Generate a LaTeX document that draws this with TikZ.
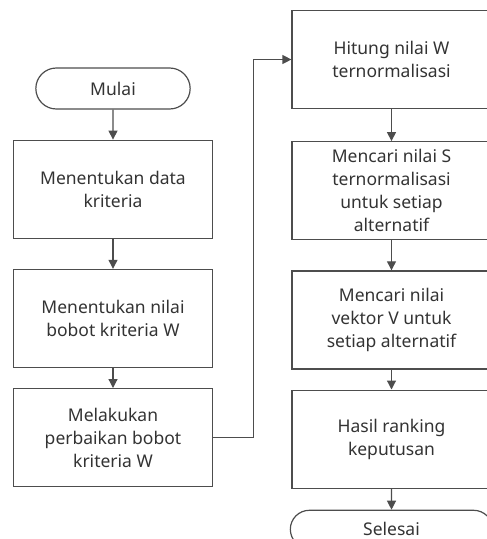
\documentclass[tikz,border=0pt]{standalone}
\usepackage{fontspec}
\setmainfont{Noto Sans}
\usetikzlibrary{arrows.meta,shapes,positioning}
\definecolor{linegray}{HTML}{4D4D4D}
\definecolor{textgray}{HTML}{333333}

\begin{document}
\begin{tikzpicture}[
        node distance=30pt,
        every node/.style={align=center, text=textgray, font=\fontsize{17.5}{23}\selectfont},
        process/.style={draw=linegray, line width=1.2pt, rectangle, minimum width=199pt, minimum height=98pt, inner sep=2pt},
        terminal/.style={draw=linegray, line width=1.2pt, rounded rectangle, minimum width=161pt, minimum height=41pt},
        flow/.style={draw=linegray, line width=1.2pt, -{Triangle[length=9pt,width=9pt]}}
    ]

    \useasboundingbox (0pt,0pt) rectangle (487pt,-539pt);

    % Nodes
    \node (mulai)[terminal] at (113pt,-88.5pt) {Mulai};
    \node (data)[process, below=of mulai] {Menentukan data \\ kriteria};
    \node (bobot)[process, below=of data] {Menentukan nilai \\ bobot kriteria W};
    \node (perbaikan)[process, below=20pt of bobot] {Melakukan \\ perbaikan bobot \\ kriteria W};

    \node (hitung)[process] at (391.5pt,-59.5pt) {Hitung nilai W \\ ternormalisasi};
    \node (nilaiS)[process, below=32pt of hitung] {Mencari nilai S \\ ternormalisasi \\ untuk setiap \\ alternatif};
    \node (nilaiV)[process, below=of nilaiS] {Mencari nilai \\ vektor V untuk \\ setiap alternatif};
    \node (hasil)[process, below=20pt of nilaiV] {Hasil ranking \\ keputusan};
    \node (selesai)[terminal, minimum width=209pt, minimum height=38pt, below=21pt of hasil] {Selesai};

    % Edges
    \draw[flow] (mulai) -- (data);
    \draw[flow] (data) -- (bobot);
    \draw[flow] (bobot) -- (perbaikan);
    \draw[flow] (perbaikan.east) -- ++(40pt,0pt) |- (hitung.west);
    \draw[flow] (hitung) -- (nilaiS);
    \draw[flow] (nilaiS) -- (nilaiV);
    \draw[flow] (nilaiV) -- (hasil);
    \draw[flow] (hasil) -- (selesai);

\end{tikzpicture}
\end{document}
